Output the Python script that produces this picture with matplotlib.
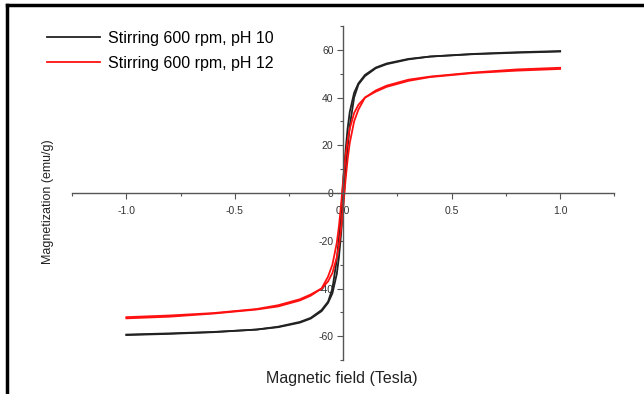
# Magnetization loop - two samples, stirring 600 rpm, pH 10 / pH 12
from matplotlib import pyplot as plt
from matplotlib.lines import Line2D
from matplotlib.ticker import MultipleLocator

# field (Tesla), increasing branch
pole = [-1.0, -0.8, -0.6, -0.4, -0.3, -0.2, -0.15, -0.1, -0.07, -0.05, -0.03, -0.02, -0.01,
        0.0, 0.01, 0.02, 0.03, 0.05, 0.07, 0.1, 0.15, 0.2, 0.3, 0.4, 0.6, 0.8, 1.0]
# pH 10 (black)
ph10_gora = [-59.5, -59.0, -58.3, -57.2, -56.2, -54.3, -52.6, -49.5, -46.0, -42.0, -34.0, -27.0, -17.0,
             -5.0, 8.0, 19.0, 28.0, 40.0, 45.5, 49.0, 52.3, 54.0, 56.0, 57.2, 58.2, 58.8, 59.3]
ph10_dol = [-59.3, -58.8, -58.2, -57.2, -56.0, -54.0, -52.3, -49.0, -45.5, -40.0, -28.0, -19.0, -8.0,
            5.0, 17.0, 27.0, 34.0, 42.0, 46.0, 49.5, 52.6, 54.3, 56.2, 57.2, 58.3, 59.0, 59.5]
# pH 12 (red)
ph12_gora = [-52.5, -51.8, -50.5, -48.8, -47.5, -45.0, -43.0, -40.0, -37.0, -33.5, -27.0, -22.0, -15.0,
             -6.0, 5.0, 14.0, 21.0, 30.0, 35.0, 40.0, 42.5, 44.5, 47.0, 48.6, 50.3, 51.3, 52.0]
ph12_dol = [-52.0, -51.3, -50.3, -48.6, -47.0, -44.5, -42.5, -40.0, -35.0, -30.0, -21.0, -14.0, -5.0,
            6.0, 15.0, 22.0, 27.0, 33.5, 37.0, 40.0, 43.0, 45.0, 47.5, 48.8, 50.5, 51.8, 52.5]

etykiety = ["Stirring 600 rpm, pH 10", "Stirring 600 rpm, pH 12"]
kolory = ["#222222", "#ff1010"]

plt.rcParams['font.family'] = ['Liberation Sans', 'DejaVu Sans']
plt.rcParams['axes.unicode_minus'] = False

fig = plt.figure(figsize=(6.44, 3.94), dpi=100)
ax = fig.add_axes([0.112, 0.086, 0.842, 0.848])

ax.plot(pole, ph10_gora, color=kolory[0], lw=1.3)
ax.plot(pole, ph10_dol, color=kolory[0], lw=1.3)
ax.plot(pole, ph12_gora, color=kolory[1], lw=1.3)
ax.plot(pole, ph12_dol, color=kolory[1], lw=1.3)

ax.set_xlim(-1.25, 1.25)
ax.set_ylim(-70, 70)
ax.spines['left'].set_position(('data', 0))
ax.spines['bottom'].set_position(('data', 0))
ax.spines['top'].set_visible(False)
ax.spines['right'].set_visible(False)
for s in ('left', 'bottom'):
    ax.spines[s].set_color('#555555')
    ax.spines[s].set_linewidth(1.0)

ax.xaxis.set_minor_locator(MultipleLocator(0.25))
ax.yaxis.set_minor_locator(MultipleLocator(10))
ax.set_xticks([-1.0, -0.5, 0.0, 0.5, 1.0])
ax.set_xticklabels(["-1.0", "-0.5", "0.0", "0.5", "1.0"])
ax.set_yticks([-60, -40, -20, 0, 20, 40, 60])
ax.tick_params(which='major', length=4, width=0.8, color='#555555', labelsize=7.5,
               labelcolor='#333333')
ax.tick_params(axis='x', which='major', pad=5)
ax.tick_params(axis='y', which='major', pad=3)
ax.tick_params(which='minor', length=2, width=0.8, color='#555555')

fig.text(0.074, 0.487, "Magnetization (emu/g)", rotation=90, ha='center', va='center',
         fontsize=9, color='#222222')
fig.text(0.53, 0.04, "Magnetic field (Tesla)", ha='center', va='center',
         fontsize=11.5, color='#222222')

uchwyty = [Line2D([], [], color=k, lw=1.3) for k in kolory]
fig.legend(uchwyty, etykiety, loc='upper left', bbox_to_anchor=(0.051, 0.958), frameon=False,
           fontsize=11.5, handlelength=3.3, handletextpad=0.5, labelspacing=0.6)

# ramka: tylko gora i lewa strona
fig.add_artist(Line2D([0.011, 1.0], [0.987, 0.987], transform=fig.transFigure, color='black', lw=2.5))
fig.add_artist(Line2D([0.011, 0.011], [0.0, 0.987], transform=fig.transFigure, color='black', lw=2.5))

fig.savefig("out.png", dpi=100)
